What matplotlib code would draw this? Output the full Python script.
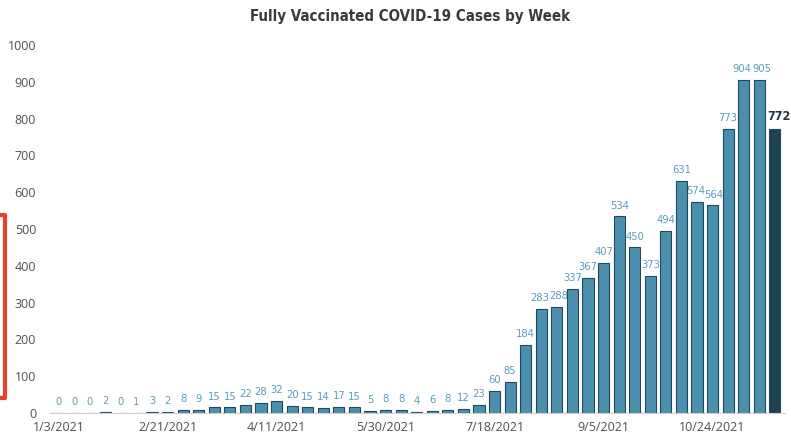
import numpy as np
import matplotlib.pyplot as plt
from matplotlib.lines import Line2D
from matplotlib import font_manager

weeks = ["1/3/2021", "2/21/2021", "4/11/2021", "5/30/2021",
         "7/18/2021", "9/5/2021", "10/24/2021"]
cases = [0, 0, 0, 2, 0, 1, 3, 2, 8, 9, 15, 15, 22, 28, 32, 20, 15, 14, 17, 15,
         5, 8, 8, 4, 6, 8, 12, 23, 60, 85, 184, 283, 288, 337, 367, 407, 534,
         450, 373, 494, 631, 574, 564, 773, 904, 905, 772]
yticks = [0, 100, 200, 300, 400, 500, 600, 700, 800, 900, 1000]

bar_color = "#4a8fae"
edge_color = "#23495a"
last_color = "#1e4252"
label_color = "#5b9cb8"

# pick a narrow face if one is around
names = {f.name for f in font_manager.fontManager.ttflist}
narrow = [n for n in ["Liberation Sans Narrow", "DejaVu Sans Condensed"] if n in names]
title_family = narrow + ["DejaVu Sans"]

fig = plt.figure(figsize=(7.91, 4.36), dpi=100)
ax = fig.add_axes([50 / 791, 1 - 413 / 436, 735 / 791, (413 - 45) / 436])

x = np.arange(len(cases))
colors = [bar_color] * (len(cases) - 1) + [last_color]
ax.bar(x, cases, width=0.72, color=colors, edgecolor=edge_color, linewidth=0.8)

# neighbours with close values get nudged apart a little
nudge = {31: -0.12, 32: 0.12, 41: -0.1, 42: 0.1, 44: -0.14, 45: 0.14, 46: 0.25}
for i, v in enumerate(cases):
    last = i == len(cases) - 1
    ax.text(i + nudge.get(i, 0), v + 16, str(v), ha="center", va="bottom",
            fontsize=9 if last else 8, family=title_family,
            fontstretch="condensed",
            color="#22333d" if last else label_color,
            fontweight="bold" if last else "normal")

ax.set_xlim(-0.55, 46.65)
ax.set_ylim(0, 1000)
ax.set_yticks(yticks)
ax.set_xticks(np.arange(0, len(cases), 7))
ax.set_xticklabels(weeks)
ax.tick_params(length=0, labelsize=9, colors="#505050", pad=6)
ax.tick_params(axis="y", pad=10)
for lab in ax.get_xticklabels() + ax.get_yticklabels():
    lab.set_family("Open Sans")
for s in ["top", "right", "left"]:
    ax.spines[s].set_visible(False)
ax.spines["bottom"].set_color("#d0d0d0")

fig.text(410 / 791, 1 - 17 / 436, "Fully Vaccinated COVID-19 Cases by Week",
         ha="center", va="center", fontsize=10.8, fontweight="bold",
         fontstretch="condensed", family=title_family, color="#3a3a3a")

# red bracket on the left edge
fig.add_artist(Line2D([0, 5 / 791, 5 / 791, 0],
                      [1 - 215 / 436, 1 - 215 / 436, 1 - 398 / 436, 1 - 398 / 436],
                      color="#e8402a", linewidth=3, transform=fig.transFigure))

fig.savefig("out.png", dpi=100)
